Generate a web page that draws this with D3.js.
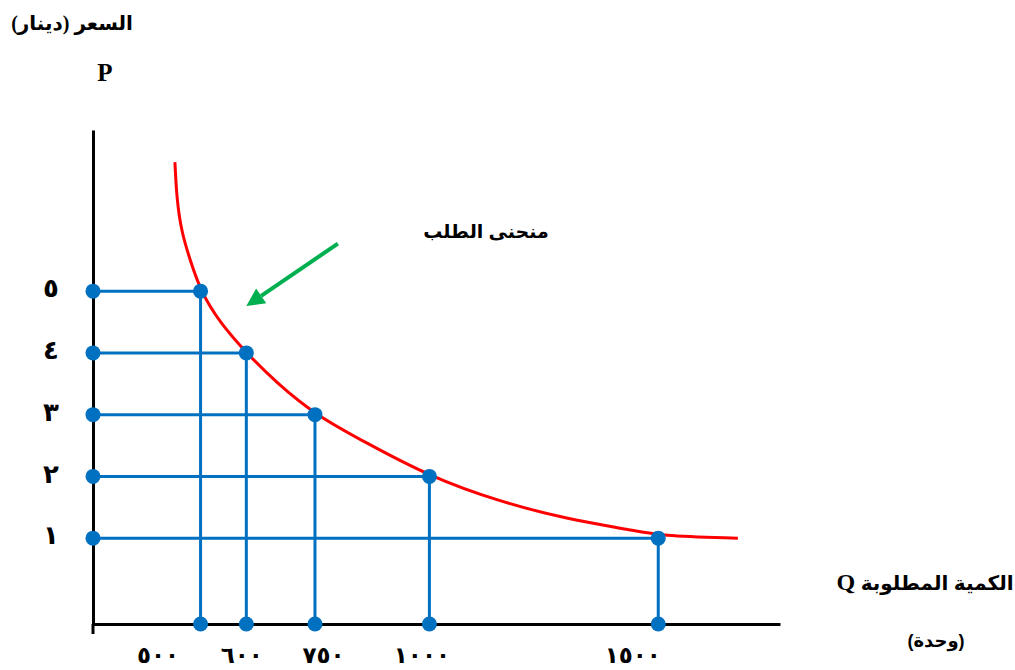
<!DOCTYPE html>
<html>
<head>
<meta charset="utf-8">
<script src="https://cdn.jsdelivr.net/npm/d3@7"></script>
<style>
  body { margin: 0; background: #fff; }
  svg { display: block; }
</style>
</head>
<body>
<svg id="chart" width="1015" height="670"></svg>
<script>
// ---- data ----
const prices = [5, 4, 3, 2, 1];
const quantities = [500, 600, 750, 1000, 1500];
// demand curve path (hand-drawn curve)
const curveQ = [444, 448, 459, 477, 500, 542, 600, 667, 750, 863, 1000, 1154, 1300, 1445, 1500, 1674];
const curveP = [7.09, 6.48, 5.94, 5.51, 5, 4.49, 4, 3.51, 3, 2.54, 2, 1.59, 1.31, 1.13, 1.04, 1.0];
// annotation arrow (from, to) in data units
const arrowQ = [800, 600];
const arrowP = [5.77, 4.76];
const yTitle = "السعر (دينار)";
const yLetter = "P";
const xTitle = "الكمية المطلوبة";
const xLetter = "Q";
const xUnit = "(وحدة)";
const curveLabel = "منحنى الطلب";

const toArabic = d => String(d).replace(/\d/g, c => "٠١٢٣٤٥٦٧٨٩"[+c]);

const svg = d3.select("#chart");
const x = d3.scaleLinear().domain([265, 1766]).range([93, 780]);
const y = d3.scaleLinear().domain([-0.39, 7.61]).range([624, 130]);
const x0 = x.range()[0], y0 = y.range()[0];

const BLUE = "#0070C0";
const serif = "'Liberation Serif', 'DejaVu Sans', serif";
const sans = "'Liberation Sans', 'DejaVu Sans', sans-serif";

// red demand curve
const pts = curveQ.map((q, i) => [q, curveP[i]]);
svg.append("path")
  .attr("d", d3.line().x(d => x(d[0])).y(d => y(d[1])).curve(d3.curveBasis)(pts))
  .attr("fill", "none").attr("stroke", "#FF0000").attr("stroke-width", 3);

// guide lines
const pairs = prices.map((p, i) => ({ p, q: quantities[i] }));
svg.append("g").selectAll("line").data(pairs).join("line")
  .attr("x1", x0).attr("x2", d => x(d.q))
  .attr("y1", d => y(d.p)).attr("y2", d => y(d.p))
  .attr("stroke", BLUE).attr("stroke-width", 3);
svg.append("g").selectAll("line").data(pairs).join("line")
  .attr("x1", d => x(d.q)).attr("x2", d => x(d.q))
  .attr("y1", d => y(d.p)).attr("y2", y0)
  .attr("stroke", BLUE).attr("stroke-width", 3);

// axes
const yAxis = svg.append("g").attr("transform", `translate(${x0},0)`)
  .call(d3.axisLeft(y).tickValues(prices).tickFormat(toArabic).tickSize(0).tickSizeOuter(0));
yAxis.select(".domain").attr("stroke", "#000").attr("stroke-width", 3);
yAxis.selectAll("text").attr("font-family", serif).attr("font-weight", "bold")
  .attr("font-size", 26).attr("fill", "#000").attr("text-anchor", "middle")
  .attr("x", -42).attr("dy", "0.22em");

// label nudges (styling only) to match the hand-placed labels of the reference
const xLabelNudge = [-43, -5, 8, -8, -26];
const xAxis = svg.append("g").attr("transform", `translate(0,${y0})`)
  .call(d3.axisBottom(x).tickValues(quantities).tickFormat(toArabic).tickSize(0).tickSizeOuter(0).tickPadding(23));
xAxis.select(".domain").attr("stroke", "#000").attr("stroke-width", 3);
xAxis.selectAll("text").attr("font-family", serif).attr("font-weight", "bold")
  .attr("font-size", 23).attr("fill", "#000").attr("letter-spacing", 3)
  .attr("dx", (d, i) => xLabelNudge[i]);
svg.append("line").attr("x1", x0).attr("x2", x0).attr("y1", y0).attr("y2", y0 + 10)
  .attr("stroke", "#000").attr("stroke-width", 3);

// dots
const dots = [];
pairs.forEach(d => {
  dots.push([x0, y(d.p)]);
  dots.push([x(d.q), y(d.p)]);
  dots.push([x(d.q), y0]);
});
svg.append("g").selectAll("circle").data(dots).join("circle")
  .attr("cx", d => d[0]).attr("cy", d => d[1]).attr("r", 7.5).attr("fill", BLUE);

// green arrow
const ax1 = x(arrowQ[0]), ay1 = y(arrowP[0]), ax2 = x(arrowQ[1]), ay2 = y(arrowP[1]);
const ang = Math.atan2(ay2 - ay1, ax2 - ax1);
const headLen = 18, headW = 9;
const bx = ax2 - headLen * Math.cos(ang), by = ay2 - headLen * Math.sin(ang);
svg.append("line").attr("x1", ax1).attr("y1", ay1).attr("x2", bx).attr("y2", by)
  .attr("stroke", "#00B050").attr("stroke-width", 4);
svg.append("path")
  .attr("d", `M${ax2},${ay2} L${bx + headW * Math.sin(ang)},${by - headW * Math.cos(ang)} L${bx - headW * Math.sin(ang)},${by + headW * Math.cos(ang)} Z`)
  .attr("fill", "#00B050");

// texts
svg.append("text").attr("x", 72).attr("y", 30).attr("direction", "rtl").attr("text-anchor", "middle")
  .attr("font-family", serif).attr("font-weight", "bold").attr("font-size", 20).text(yTitle);
svg.append("text").attr("x", 105).attr("y", 81).attr("text-anchor", "middle")
  .attr("font-family", serif).attr("font-weight", "bold").attr("font-size", 25).text(yLetter);

svg.append("text").attr("x", 486).attr("y", 238).attr("direction", "rtl").attr("text-anchor", "middle")
  .attr("font-family", sans).attr("font-weight", "bold").attr("font-size", 19).text(curveLabel);

const xt = svg.append("text").attr("x", 925).attr("y", 590).attr("direction", "rtl").attr("text-anchor", "middle")
  .attr("font-family", sans).attr("font-weight", "bold").attr("font-size", 20);
xt.append("tspan").text(xTitle + " ");
xt.append("tspan").attr("font-family", serif).attr("font-size", 24).text(xLetter);

svg.append("text").attr("x", 936).attr("y", 647).attr("direction", "rtl").attr("text-anchor", "middle")
  .attr("font-family", sans).attr("font-weight", "bold").attr("font-size", 18).text(xUnit);
</script>
</body>
</html>
